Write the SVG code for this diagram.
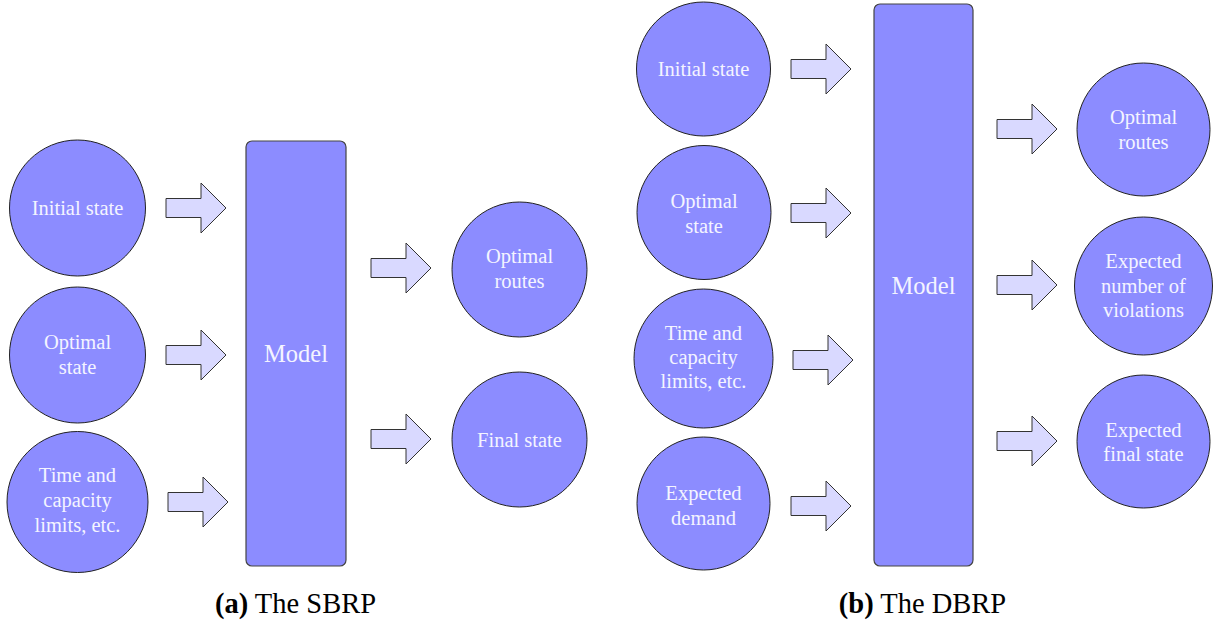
<svg xmlns="http://www.w3.org/2000/svg" xmlns:xlink="http://www.w3.org/1999/xlink" width="1213" height="622" viewBox="0 0 1213 622">
<style>
.node{fill:#8c8cff;stroke:#222;stroke-width:1}
.model{fill:#8c8cff;stroke:#444;stroke-width:1.2}
.lbl{font-family:"Liberation Serif","Times New Roman",serif;font-size:20.5px;fill:#f4f4ff;text-anchor:middle}
.mlbl{font-family:"Liberation Serif","Times New Roman",serif;font-size:24.5px;fill:#f4f4ff;text-anchor:middle}
.cap{font-family:"Liberation Serif","Times New Roman",serif;font-size:28.5px;fill:#000;text-anchor:middle}
.arr{fill:#d9d9ff;stroke:#333;stroke-width:1}
</style>
<defs>
<path id="arrow" class="arr" d="M0,-9.5 H35 V-25 L60,0 L35,25 V9.5 H0 Z"/>
</defs>
<rect width="1213" height="622" fill="#fff"/>
<g id="connectors">
<use xlink:href="#arrow" href="#arrow" x="166" y="208"/>
<use xlink:href="#arrow" href="#arrow" x="166" y="355"/>
<use xlink:href="#arrow" href="#arrow" x="168" y="502"/>
<use xlink:href="#arrow" href="#arrow" x="371" y="268"/>
<use xlink:href="#arrow" href="#arrow" x="371" y="439"/>
<use xlink:href="#arrow" href="#arrow" x="791" y="69"/>
<use xlink:href="#arrow" href="#arrow" x="791" y="213"/>
<use xlink:href="#arrow" href="#arrow" x="793" y="360"/>
<use xlink:href="#arrow" href="#arrow" x="791" y="506"/>
<use xlink:href="#arrow" href="#arrow" x="997" y="129"/>
<use xlink:href="#arrow" href="#arrow" x="997" y="285"/>
<use xlink:href="#arrow" href="#arrow" x="997" y="441"/>
</g>
<g id="a-initial"><circle class="node" cx="77.5" cy="208" r="68"/><text class="lbl" x="77.5" y="215">Initial state</text></g>
<g id="a-optimal"><circle class="node" cx="77.5" cy="355" r="68"/><text class="lbl" x="77.5" y="349">Optimal</text><text class="lbl" x="77.5" y="374">state</text></g>
<g id="a-limits"><circle class="node" cx="77.5" cy="502" r="70.5"/><text class="lbl" x="77.5" y="482">Time and</text><text class="lbl" x="77.5" y="507">capacity</text><text class="lbl" x="77.5" y="532">limits, etc.</text></g>
<g id="a-model"><rect class="model" x="246" y="141" width="100" height="425" rx="6"/><text class="mlbl" x="296" y="362">Model</text></g>
<g id="a-routes"><circle class="node" cx="519.5" cy="269.5" r="67.5"/><text class="lbl" x="519.5" y="263">Optimal</text><text class="lbl" x="519.5" y="288">routes</text></g>
<g id="a-final"><circle class="node" cx="519.5" cy="439.5" r="67.5"/><text class="lbl" x="519.5" y="447">Final state</text></g>
<g id="b-initial"><circle class="node" cx="703.5" cy="69" r="67"/><text class="lbl" x="703.5" y="76">Initial state</text></g>
<g id="b-optimal"><circle class="node" cx="704" cy="212.5" r="67"/><text class="lbl" x="704" y="208">Optimal</text><text class="lbl" x="704" y="233">state</text></g>
<g id="b-limits"><circle class="node" cx="703.5" cy="358.5" r="69.5"/><text class="lbl" x="703.5" y="340">Time and</text><text class="lbl" x="703.5" y="364">capacity</text><text class="lbl" x="703.5" y="388">limits, etc.</text></g>
<g id="b-demand"><circle class="node" cx="703.5" cy="503.5" r="66.5"/><text class="lbl" x="703.5" y="500">Expected</text><text class="lbl" x="703.5" y="525">demand</text></g>
<g id="b-model"><rect class="model" x="874" y="4" width="99" height="562" rx="6"/><text class="mlbl" x="923.5" y="294">Model</text></g>
<g id="b-routes"><circle class="node" cx="1143.5" cy="129.5" r="66.5"/><text class="lbl" x="1143.5" y="124">Optimal</text><text class="lbl" x="1143.5" y="149">routes</text></g>
<g id="b-violations"><circle class="node" cx="1143.5" cy="286" r="69"/><text class="lbl" x="1143.5" y="268">Expected</text><text class="lbl" x="1143.5" y="293">number of</text><text class="lbl" x="1143.5" y="317">violations</text></g>
<g id="b-final"><circle class="node" cx="1143.5" cy="441.5" r="66.5"/><text class="lbl" x="1143.5" y="437">Expected</text><text class="lbl" x="1143.5" y="461">final state</text></g>
<text class="cap" x="295.5" y="613"><tspan font-weight="bold">(a)</tspan> The SBRP</text>
<text class="cap" x="922.5" y="613"><tspan font-weight="bold">(b)</tspan> The DBRP</text>
</svg>
